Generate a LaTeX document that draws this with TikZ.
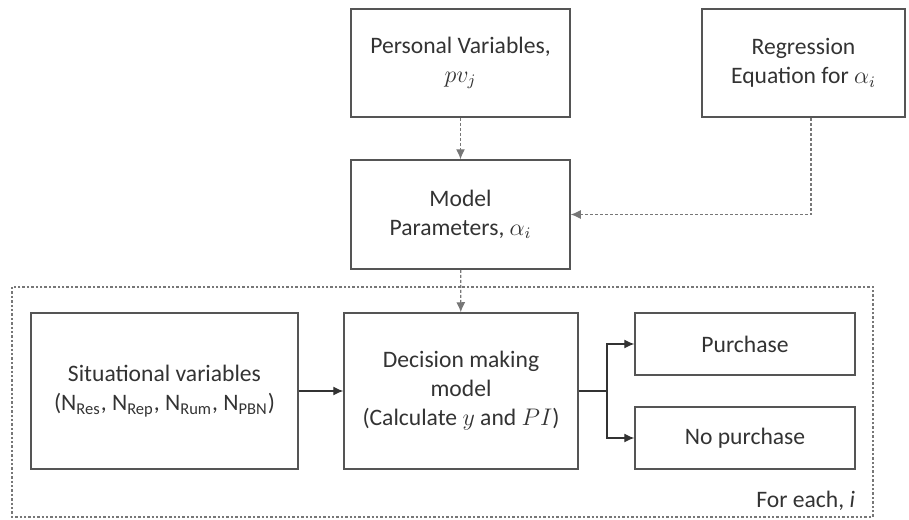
\documentclass[tikz,border=0pt]{standalone}
\usepackage{fontspec}
\setmainfont{Carlito}
\usetikzlibrary{arrows.meta}
\definecolor{boxline}{HTML}{555555}
\definecolor{dotline}{HTML}{777777}
\tikzstyle{std} = [rectangle, text centered, align=center, draw=boxline, line width=0.75pt, text=black!80, font=\fontsize{11.8}{14.5}\selectfont]
\tikzstyle{arrow} = [-{Latex[length=5pt,width=4.5pt]}, draw=black!80, line width=0.6pt]
\tikzstyle{dotarrow} = [-{Latex[length=5pt,width=4.5pt]}, draw=dotline, line width=0.6pt, dash pattern=on 1.5pt off 1pt]

\begin{document}
\begin{tikzpicture}[x=0.5pt, y=-0.5pt]
    \useasboundingbox (0,0) rectangle (909,519);
    \node (pv)  [std, minimum width=109.5pt, minimum height=54pt] at (460.5,63)
      {Personal Variables,\\ $pv_j$};
    \node (reg) [std, minimum width=101.5pt, minimum height=54pt] at (803.5,63)
      {Regression\\ Equation for $\alpha_i$};
    \node (par) [std, minimum width=109.5pt, minimum height=54.5pt, below of=pv,
      node distance=75.75pt]
      {Model\\ Parameters, $\alpha_i$};
    \node (dec) [std, minimum width=117pt, minimum height=78pt] at (461,391)
      {Decision making\\ model\\ (Calculate $y$ and $PI$)};
    \node (sit) [std, minimum width=133.5pt, minimum height=78pt, left of=dec,
      node distance=148.25pt]
      {Situational variables\\ (N\textsubscript{Res}, N\textsubscript{Rep},
        N\textsubscript{Rum}, N\textsubscript{PBN})};
    \node (pur) [std, minimum width=110pt, minimum height=31pt] at (745,344)
      {Purchase};
    \node (nop) [std, minimum width=110pt, minimum height=31pt, below of=pur,
      node distance=47pt]
      {No purchase};

    % loop frame
    \draw [dotline, line width=0.6pt, dash pattern=on 1.2pt off 1pt]
      (12,287) rectangle (873,517);
    \node (each) [anchor=east, text=black!80, font=\fontsize{11.8}{14.5}\selectfont]
      at (862,501) {For each, \textit{i}};

    \coordinate (regout) at ([xshift=3.75pt]reg.south);
    \coordinate (split)  at (607,391);

    \draw [dotarrow] (pv)  -- (par);
    \draw [dotarrow] (regout) |- (par.east);
    \draw [dotarrow] (par) -- (dec);
    \draw [arrow] (sit) -- (dec);
    \draw [black!80, line width=0.6pt] (dec) -- (split);
    \draw [arrow] (split) |- (pur.west);
    \draw [arrow] (split) |- (nop.west);
\end{tikzpicture}
\end{document}
